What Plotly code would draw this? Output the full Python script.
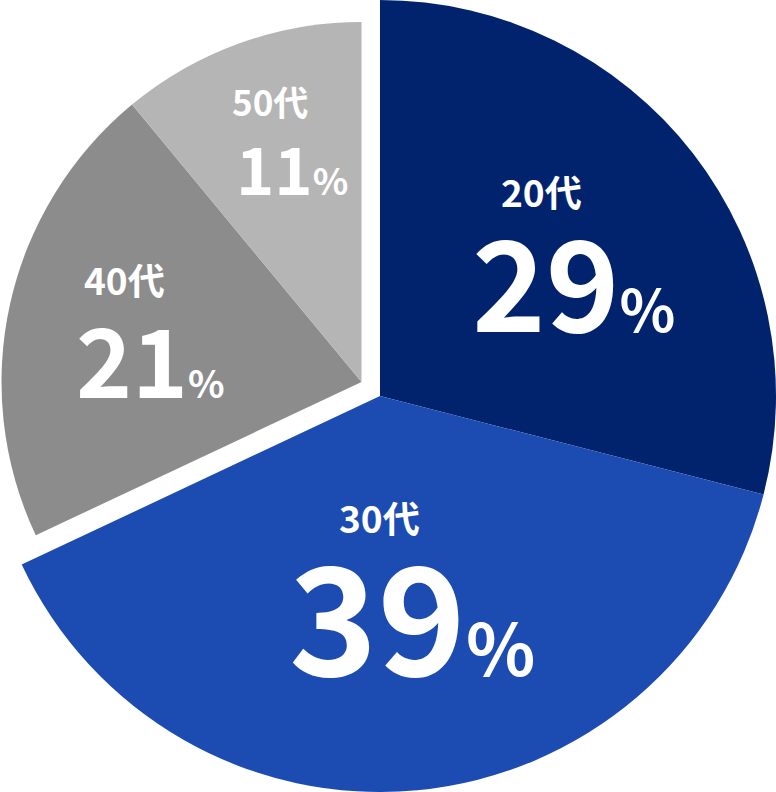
import plotly.graph_objects as go

# ---- data ----
categories = ["20代", "30代", "40代", "50代"]
values = [29, 39, 21, 11]
pct_labels = ["29", "39", "21", "11"]

# ---- styles / layout ----
VIEW_W, H = 776, 792          # browser window
W = 792                        # figure width (pie needs 2*396 px)
XS = 16                        # figure is shifted left by this many px
blue_colors = ["#01236E", "#1C4CB2", "rgba(0,0,0,0)", "rgba(0,0,0,0)"]
gray_colors = ["rgba(0,0,0,0)", "rgba(0,0,0,0)", "#8C8C8C", "#B5B5B5"]
FONT = "Noto Sans CJK JP"

# label layout (pixel positions in the visible window, font sizes)
label_pos = [(541.5, 191), (379.5, 517), (124.5, 279), (270, 100)]
label_size = [37, 37, 37, 35]
num_pos = [(573.5, 277.5), (412.5, 610), (150, 356.6), (291.5, 166.7)]
num_size = [125, 150, 95, 65]
pct_size = [58, 72, 38, 37]


def px(x, y):
    return (x + XS) / W, 1 - y / H


fig = go.Figure()

# main (blue) pie: full figure, centre (380, 396) visible, r = 396
fig.add_trace(go.Pie(
    labels=categories, values=values, sort=False, direction="clockwise",
    rotation=0, marker=dict(colors=blue_colors, line=dict(width=0)),
    textinfo="none", hoverinfo="skip", showlegend=False,
    domain=dict(x=[0, 1], y=[0, 1]),
))

# pulled-out (gray) part, smaller and shifted up-left
gcx, gcy, gr = 361.5 + XS, 382.0, 360.0
fig.add_trace(go.Pie(
    labels=categories, values=values, sort=False, direction="clockwise",
    rotation=0, marker=dict(colors=gray_colors, line=dict(width=0)),
    textinfo="none", hoverinfo="skip", showlegend=False,
    domain=dict(x=[(gcx - gr) / W, (gcx + gr) / W],
                y=[1 - (gcy + gr) / H, 1 - (gcy - gr) / H]),
))

annotations = []
for i, cat in enumerate(categories):
    x, y = px(*label_pos[i])
    annotations.append(dict(
        x=x, y=y, xref="paper", yref="paper", xanchor="center", yanchor="middle",
        text=cat, showarrow=False,
        font=dict(family=FONT, size=label_size[i], color="white", weight=700),
    ))
    x, y = px(*num_pos[i])
    annotations.append(dict(
        x=x, y=y, xref="paper", yref="paper", xanchor="center", yanchor="middle",
        text=f"{pct_labels[i]}<span style='font-size:{pct_size[i]}px'>%</span>",
        showarrow=False,
        font=dict(family=FONT, size=num_size[i], color="white", weight=700),
    ))

fig.update_layout(
    width=W, height=H, margin=dict(l=0, r=0, t=0, b=0),
    paper_bgcolor="white", plot_bgcolor="white", showlegend=False,
    annotations=annotations,
)

post = (
    "document.body.style.margin='0';"
    "document.body.style.overflow='hidden';"
    "var gd=document.getElementById('{plot_id}');"
    f"gd.style.marginLeft='-{XS}px';"
)
fig.write_html("out.html", post_script=post, config={"displayModeBar": False})
